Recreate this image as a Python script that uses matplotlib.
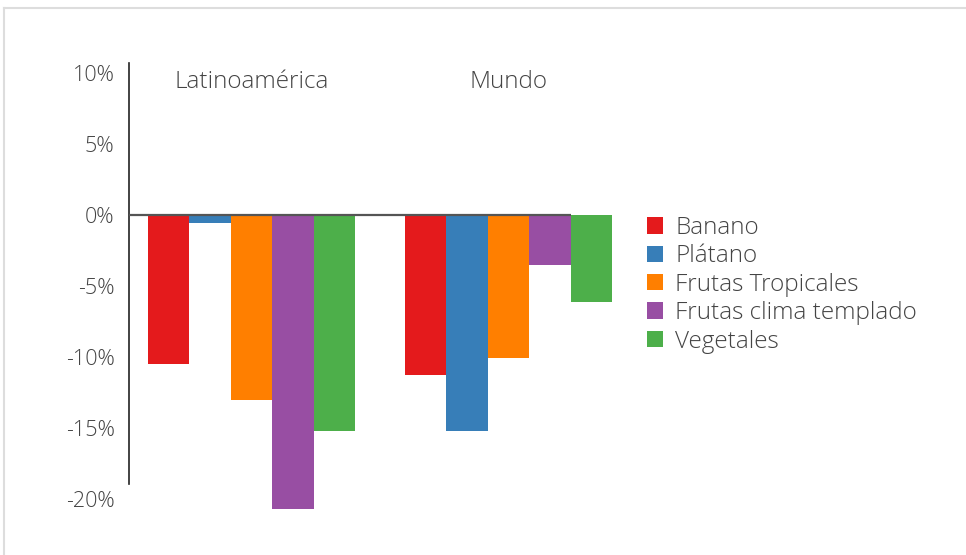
import numpy as np
import matplotlib.pyplot as plt
from matplotlib.patches import Patch
from matplotlib.lines import Line2D

plt.rcParams['font.family'] = ['Open Sans', 'DejaVu Sans']
plt.rcParams['font.weight'] = 'light'

regiones = ["Latinoamérica", "Mundo"]
productos = ["Banano", "Plátano", "Frutas Tropicales", "Frutas clima templado", "Vegetales"]
colores = ["#e41a1c", "#377eb8", "#ff7f00", "#984ea3", "#4daf4a"]
# variación (%) por producto: [Latinoamérica, Mundo]
banano = [-10.5, -11.25]
platano = [-0.55, -15.2]
tropicales = [-13.05, -10.1]
templado = [-20.7, -3.5]
vegetales = [-15.2, -6.1]
valores = [banano, platano, tropicales, templado, vegetales]
yticks = [10, 5, 0, -5, -10, -15, -20]

W, H = 966, 555
ymin, ymax = -20.5, 10.7
px = 14.2  # px por punto porcentual
ybot = 215 + (-ymin) * px
fig = plt.figure(figsize=(W / 100, H / 100), dpi=100)
ax = fig.add_axes([129 / W, (H - ybot) / H, (571 - 129) / W, (ymax - ymin) * px / H])

x = np.arange(len(regiones))
w = 0.161
for i, (prod, vals, c) in enumerate(zip(productos, valores, colores)):
    ax.bar(x + (i - 2) * w, vals, width=w, color=c, label=prod, clip_on=False, zorder=2)

ax.set_yticks(yticks)
ax.set_yticklabels([f"{t}%" for t in yticks])
ax.set_xlim(-0.4767, 1.243)
ax.set_ylim(ymin, ymax)
ax.axhline(0, color="#555555", lw=1.6, zorder=3)

for s in ["top", "right", "bottom"]:
    ax.spines[s].set_visible(False)
ax.spines["left"].set_color("#222222")
ax.spines["left"].set_linewidth(1.2)
ax.spines["left"].set_bounds(-18.94, ymax)
ax.set_xticks([])
ax.tick_params(axis="y", length=0, pad=10.5, labelsize=15.5, labelcolor="#444444")

for xi, r in zip(x, regiones):
    ax.text(xi, 9.35, r, ha="center", va="center", fontsize=17.5, color="#444444")

handles = [Patch(facecolor=c, edgecolor="none") for c in colores]
fig.legend(handles, productos, loc="upper left", bbox_to_anchor=(647 / W, 1 - 216 / H),
           frameon=False, fontsize=17.5, handlelength=0.66, handleheight=0.66,
           handletextpad=0.5, labelspacing=0.18, labelcolor="#444444",
           borderaxespad=0, borderpad=0)

# marco gris claro
fig.add_artist(Line2D([4 / W, 4 / W], [0, 1 - 8 / H], transform=fig.transFigure, color="#dddddd", lw=1.5))
fig.add_artist(Line2D([4 / W, 1], [1 - 8 / H, 1 - 8 / H], transform=fig.transFigure, color="#dddddd", lw=1.5))

fig.savefig("out.png", dpi=100)
